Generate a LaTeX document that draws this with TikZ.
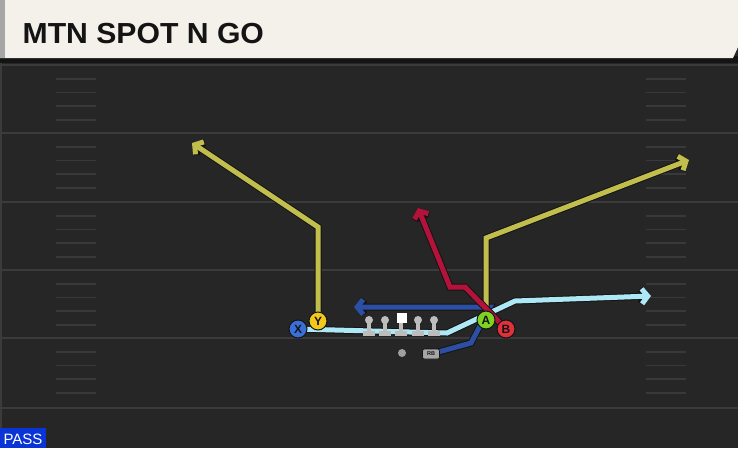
\documentclass[tikz,border=0pt]{standalone}
\usepackage{fontspec}
\setmainfont{Liberation Sans}
\usetikzlibrary{arrows.meta}
\definecolor{field}{HTML}{262626}
\definecolor{yard}{HTML}{3B3B3B}
\definecolor{header}{HTML}{F4F1EA}
\definecolor{edge}{HTML}{141414}
\definecolor{skyroute}{HTML}{AEE8F7}
\definecolor{olive}{HTML}{C2BE4E}
\definecolor{crimson}{HTML}{B3123B}
\definecolor{navy}{HTML}{2C4FA3}
\definecolor{lineman}{HTML}{BDBDBD}
\definecolor{passblue}{HTML}{0B34D6}
\definecolor{xblue}{HTML}{3A6FD8}
\definecolor{ygold}{HTML}{F2C81C}
\definecolor{agreen}{HTML}{7ED321}
\definecolor{bred}{HTML}{E0303A}

\begin{document}
\begin{tikzpicture}[x=1pt,y=-1pt,
  yardline/.style={draw=yard, line width=2.2pt},
  hash/.style={draw=yard!90!field, line width=1.3pt},
  route/.style={draw=#1, line width=5pt, line join=miter,
    -{Straight Barb[length=6pt,width=15pt]},
    preaction={draw=edge, line width=7pt, line join=miter,
      -{Straight Barb[length=6pt,width=15pt]}}},
  player/.style={circle, draw=edge, line width=1pt, fill=#1, minimum size=18pt,
    inner sep=0pt, font=\bfseries\fontsize{12}{12}\selectfont, text=edge},
  head/.style={circle, fill=lineman, minimum size=8pt, inner sep=0pt}]
  \useasboundingbox (0,0) rectangle (738,448);
  \fill[field] (0,0) rectangle (738,448);
  \fill[edge] (0,56) rectangle (738,63);
  \fill[header] (0,0) -- (738,0) -- (738,47) -- (733,58) -- (0,58) -- cycle;
  \fill[gray!70] (0,0) rectangle (5,58);
  \fill[yard] (0,63) rectangle (2,448);
  \node[anchor=base west, font=\bfseries\fontsize{29}{29}\selectfont, text=edge,
    xscale=1.04] (title) at (19,43) {MTN SPOT N GO};

  \foreach \y in {65,133,202,270,338,408}
    \draw[yardline] (0,\y) -- (738,\y);
  \foreach \y in {65,133,202,270,338}
    \foreach \d in {14,27.5,41,55} {
      \draw[hash] (56,\y+\d) -- (96,\y+\d);
      \draw[hash] (646,\y+\d) -- (686,\y+\d);
    }

  \coordinate (X) at (298,329);
  \coordinate (Y) at (318,321);
  \coordinate (A) at (486,320);
  \coordinate (B) at (506,329);
  \coordinate (QB) at (402,353);
  \coordinate (RB) at (431,354);

  \coordinate (navy1) at (471,343);
  \coordinate (navy2) at (490,307);
  \coordinate (navyend) at (354,307);
  \coordinate (sky1) at (447,333);
  \coordinate (sky2) at (515,301);
  \coordinate (skyend) at (651,296);
  \coordinate (ybreak) at (318,227);
  \coordinate (yend) at (192,143);
  \coordinate (abreak) at (486,238);
  \coordinate (aend) at (689,160);
  \coordinate (b1) at (465,287);
  \coordinate (b2) at (450,287);
  \coordinate (bend) at (418,208);

  \draw[route=navy] (RB) -- (navy1) -- (navy2) -- (navyend);
  \draw[route=olive] (Y) -- (ybreak) -- (yend);
  \draw[route=olive] (A) -- (abreak) -- (aend);
  \draw[route=skyroute] (X) -- (sky1) -- (sky2) -- (skyend);
  \draw[route=crimson] (B) -- (b1) -- (b2) -- (bend);

  \foreach \x/\n in {369/lt,385/lg,401/c,418/rg,434/rt} {
    \fill[lineman] (\x-1.8,320) rectangle (\x+1.8,332);
    \fill[lineman] (\x-6,331) rectangle (\x+6,336);
  }
  \foreach \x/\n in {369/lt,385/lg,418/rg,434/rt}
    \node[head] (\n) at (\x,320) {};
  \node[fill=white, minimum size=10pt, inner sep=0pt] (c) at (402,318) {};

  \node[circle, fill=gray!75, minimum size=8pt, inner sep=0pt] (qb) at (QB) {};
  \node[rounded corners=2pt, fill=gray!70, draw=edge, line width=0.6pt,
    minimum width=17pt, minimum height=10pt, inner sep=0pt,
    font=\bfseries\fontsize{5.5}{5.5}\selectfont, text=edge] (rb) at (RB) {RB};

  \node[player=ygold] (y) at (Y) {Y};
  \node[player=xblue] (x) at (X) {X};
  \node[player=agreen] (a) at (A) {A};
  \node[player=bred] (b) at (B) {B};

  \fill[passblue] (0,428) rectangle (46,448);
  \node[text=white, font=\fontsize{15}{15}\selectfont, anchor=base] (pass) at (23,444) {PASS};
\end{tikzpicture}
\end{document}
